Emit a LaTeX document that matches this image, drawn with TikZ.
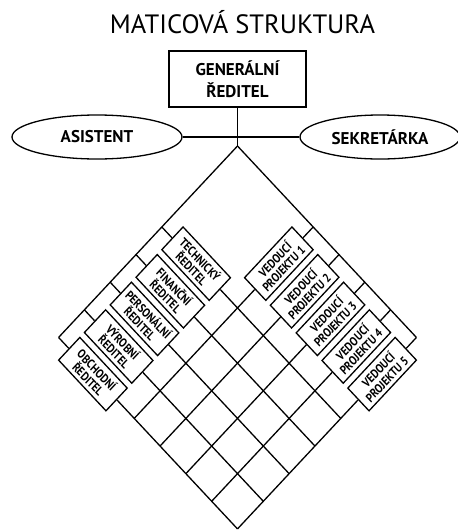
\documentclass[tikz,border=0pt]{standalone}
\usepackage{fontspec}
\setmainfont{PT Sans}
\newfontfamily\cond[FakeStretch=0.88]{PT Sans}
\usetikzlibrary{shapes.geometric}
\begin{document}
\begin{tikzpicture}[x=1pt,y=1pt,
  line width=1.3pt,
  gbox/.style={draw, minimum width=137pt, minimum height=56pt, inner sep=0pt, align=center, font=\bfseries\fontsize{17}{22.5}\selectfont},
  oval/.style={draw, ellipse, minimum height=44pt, inner sep=0pt, font=\bfseries\fontsize{17}{18}\selectfont},
  lbox/.style={draw, fill=white, minimum width=67pt, minimum height=30pt, inner sep=0pt, align=center, font=\cond\bfseries\fontsize{11.8}{12.2}\selectfont, transform shape},
  rbox/.style={lbox, rotate=90},
]
\useasboundingbox (0,0) rectangle (458,-531);
\node[anchor=base, font=\fontsize{26.5}{30}\selectfont] (title) at (242.5,-33) {MATICOVÁ STRUKTURA};
\node[gbox] (gm) at (237.5,-79) {GENERÁLNÍ\\ŘEDITEL};
\node[oval, minimum width=170pt] (asis) at (97,-137) {ASISTENT};
\node[oval, minimum width=160pt] (sekr) at (380,-137) {SEKRETÁRKA};
\draw (asis.east) -- (sekr.west);
\begin{scope}[shift={(237.5,-146)}, cm={0.7071,-0.7566,0.7071,0.7566,(0,0)}]
\coordinate (top) at (0,0);
\coordinate (cL) at (0,-253);
\coordinate (cR) at (253,0);
\draw (top) -- (cL);
\draw (top) -- (cR);
\foreach \n/\c/\t in {1/107/TECHNICKÝ, 2/143.5/FINANČNÍ, 3/180/PERSONÁLNÍ, 4/216.5/VÝROBNÍ, 5/253/OBCHODNÍ}{
  \node[lbox] (L\n) at (48.5,-\c) {\t\\ŘEDITEL};
  \coordinate (oL\n) at (0,-\c);
  \coordinate (eL\n) at (253,-\c);
  \draw (oL\n) -- (L\n.west);
  \draw (L\n.east) -- (eL\n);
  \node[rbox] (R\n) at (\c,-48.5) {VEDOUCÍ\\PROJEKTU \n};
  \coordinate (oR\n) at (\c,0);
  \coordinate (eR\n) at (\c,-253);
  \draw (oR\n) -- (R\n.east);
  \draw (R\n.west) -- (eR\n);
}
\end{scope}
\draw (gm.south) -- (top);
\end{tikzpicture}
\end{document}
